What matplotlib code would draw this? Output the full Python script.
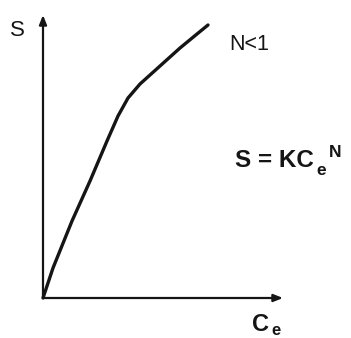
import matplotlib
matplotlib.use("Agg")
import matplotlib.pyplot as plt

plt.rcParams['font.family'] = ['Liberation Sans', 'DejaVu Sans']

# Freundlich isotherm sketch, N < 1
ce = [0, 10, 29, 47, 64, 75, 85, 97, 117, 137, 154, 165]
s = [0, 30, 77, 117, 157, 182, 200, 214, 232, 250, 264, 273]
x_end = 240
y_end = 283

fig = plt.figure(figsize=(3.51, 3.38), dpi=100)
ax = fig.add_axes([0, 0, 1, 1])
ax.set_xlim(-43, 308)
ax.set_ylim(-40, 298)
ax.axis('off')

ink = '#151515'
arrow = dict(arrowstyle='-|>,head_length=0.55,head_width=0.22', color=ink,
             lw=1.6, shrinkA=0, shrinkB=0)
ax.annotate('', xy=(x_end, 0), xytext=(0, 0), arrowprops=arrow)
ax.annotate('', xy=(0, y_end), xytext=(0, 0), arrowprops=arrow)

ax.plot(ce, s, color=ink, lw=2.4, solid_capstyle='round')

ax.text(-25.5, 268, 'S', fontsize=16, ha='center', va='center', color=ink)
ax.text(206, 254, 'N<1', fontsize=15.5, ha='center', va='center', color=ink)

# equation, with subscript and superscript placed by hand
bold = dict(color=ink, fontweight='bold', ha='left', va='baseline')
ax.text(192, 131, 'S = KC', fontsize=17.5, **bold)
ax.text(273, 123, 'e', fontsize=12.5, **bold)
ax.text(286, 141, 'N', fontsize=12.5, **bold)

# x axis label
ax.text(209, -33, 'C', fontsize=17, **bold)
ax.text(228, -37, 'e', fontsize=12, **bold)

fig.savefig('out.png', dpi=100)
